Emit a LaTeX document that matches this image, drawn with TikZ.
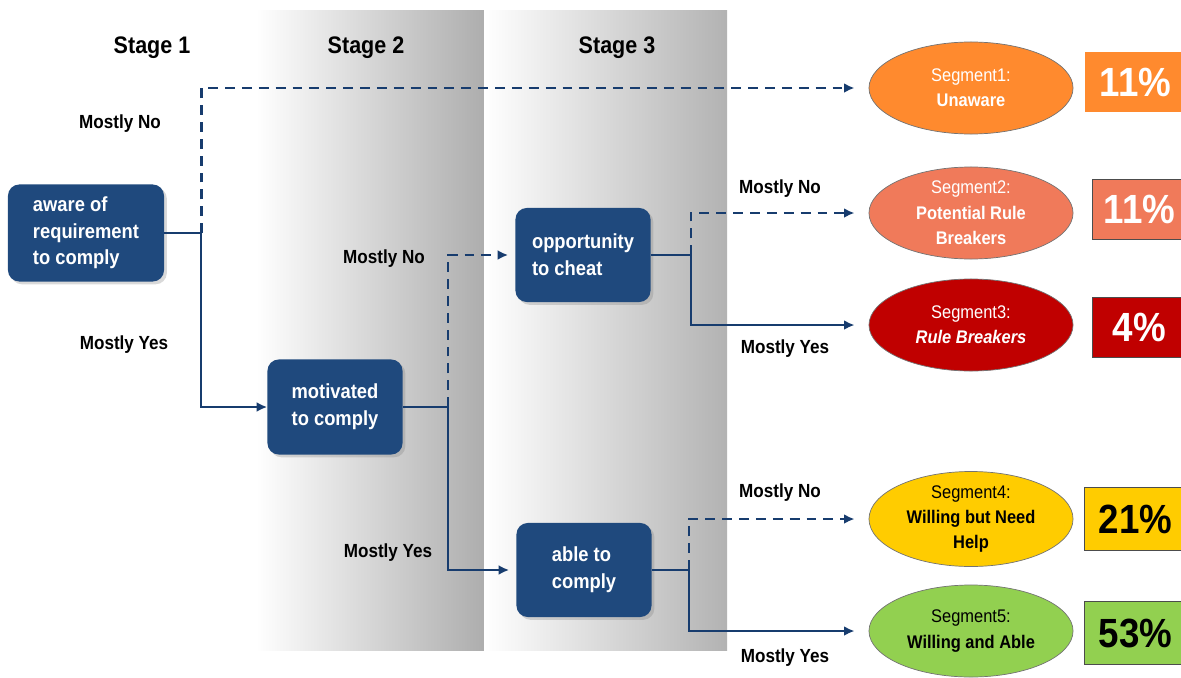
\documentclass[tikz,border=0pt]{standalone}
\usepackage{fontspec}
\setmainfont{Liberation Sans}
\newfontfamily\narrow[FakeStretch=0.9]{Liberation Sans}
\usetikzlibrary{positioning, arrows.meta, shapes.geometric, shadows}
\definecolor{boxblue}{HTML}{1F497D}
\definecolor{linkblue}{HTML}{173C6E}
\definecolor{segorange}{HTML}{FF8A2E}
\definecolor{segsalmon}{HTML}{F07A5A}
\definecolor{segred}{HTML}{C00000}
\definecolor{segyellow}{HTML}{FFCC00}
\definecolor{seggreen}{HTML}{92D050}

\begin{document}
\begin{tikzpicture}[
  x=0.025cm, y=-0.025cm, >={Latex[length=7.5pt,width=7pt]},
  box/.style={fill=boxblue, rounded corners=8pt, text=white, align=left,
    font=\narrow\bfseries\fontsize{14.5}{19}\selectfont,
    minimum width=3.375cm, minimum height=2.375cm,
    drop shadow={opacity=0.3, shadow xshift=2pt, shadow yshift=-2pt}},
  seg/.style={ellipse, draw=black!55, line width=0.5pt, align=center, inner sep=0pt,
    minimum width=5.1cm, minimum height=2.3cm,
    font=\narrow\fontsize{13}{18}\selectfont},
  pct/.style={draw=black!70, line width=0.6pt, minimum height=1.5cm,
    font=\narrow\bfseries\fontsize{29}{30}\selectfont},
  stage/.style={font=\narrow\bfseries\fontsize{17}{20}\selectfont},
  lbl/.style={font=\narrow\bfseries\fontsize{13.5}{16}\selectfont},
  flow/.style={->, line width=1.5pt, linkblue},
  maybe/.style={flow, line width=1.8pt, dash pattern=on 7pt off 5pt},
]
\useasboundingbox (0,0) rectangle (1181,677);
% ---- stage bands ----
\shade[left color=white, right color=black!32] (256,10) rectangle (484,650);
\shade[left color=white, right color=black!30] (484,10) rectangle (727,650);
\node[stage] (st1) at (152,48) {Stage 1};
\node[stage] (st2) at (366,48) {Stage 2};
\node[stage] (st3) at (617,48) {Stage 3};
% ---- decision boxes ----
\node[box, minimum width=3.9cm, minimum height=2.425cm] (aware) at (86,233)
  {aware of\\requirement\\to comply};
\node[box] (motiv) at (335,407) {motivated\\to comply};
\node[box, minimum height=2.35cm] (opp) at (583,255) {opportunity\\to cheat};
\node[box, minimum height=2.35cm] (able) at (584,570) {able to\\comply};
% ---- segments ----
\node[seg, fill=segorange, text=white] (seg1) at (971,88) {Segment1:\\\textbf{Unaware}};
\node[seg, fill=segsalmon, text=white] (seg2) at (971,213)
  {Segment2:\\\textbf{Potential Rule}\\\textbf{Breakers}};
\node[seg, fill=segred, text=white] (seg3) at (971,325)
  {Segment3:\\\textbf{\itshape Rule Breakers}};
\node[seg, fill=segyellow] (seg4) at (971,519)
  {Segment4:\\\textbf{Willing but Need}\\\textbf{Help}};
\node[seg, fill=seggreen] (seg5) at (971,631) {Segment5:\\\textbf{Willing and Able}};
% ---- shares ----
\node[pct, draw=none, fill=segorange, text=white, minimum width=2.525cm,
  right=0.275cm of seg1, yshift=0.15cm] (pct1) {11\%};
\node[pct, fill=segsalmon, text=white, minimum width=2.325cm,
  right=0.475cm of seg2, yshift=0.09cm] (pct2) {11\%};
\node[pct, fill=segred, text=white, minimum width=2.325cm,
  right=0.475cm of seg3, yshift=-0.06cm] (pct3) {4\%};
\node[pct, fill=segyellow, minimum width=2.525cm, minimum height=1.575cm,
  right=0.275cm of seg4] (pct4) {21\%};
\node[pct, fill=seggreen, minimum width=2.525cm, minimum height=1.575cm,
  right=0.275cm of seg5, yshift=-0.06cm] (pct5) {53\%};
% ---- answers ----
\node[lbl] (no1)  at (120,124) {Mostly No};
\node[lbl] (yes1) at (124,345) {Mostly Yes};
\node[lbl] (no2)  at (384,259) {Mostly No};
\node[lbl] (yes2) at (388,553) {Mostly Yes};
\node[lbl] (no3)  at (780,189) {Mostly No};
\node[lbl] (yes3) at (785,349) {Mostly Yes};
\node[lbl] (no4)  at (780,493) {Mostly No};
\node[lbl] (yes4) at (785,658) {Mostly Yes};
% ---- edges ----
\path (aware.east) ++(37,0) coordinate (j1);
\path (motiv.east) ++(45,0) coordinate (j2);
\path (opp.east) ++(40,0) coordinate (j3);
\path (able.east) ++(37,0) coordinate (j4);
\draw[flow] (aware.east) -- (j1) |- (motiv.west);
\draw[maybe, shorten >=10pt] (j1) |- (seg1.west);
\draw[flow, shorten >=5pt] (motiv.east) -- (j2) |- (able.west);
\draw[maybe, shorten >=5pt] (j2) |- (opp.west);
\draw[flow, shorten >=10pt] (opp.east) -- (j3) |- (seg3.west);
\draw[maybe, shorten >=10pt] (j3) |- (seg2.west);
\draw[flow, shorten >=10pt] (able.east) -- (j4) |- (seg5.west);
\draw[maybe, shorten >=10pt] (j4) |- (seg4.west);
\end{tikzpicture}
\end{document}
